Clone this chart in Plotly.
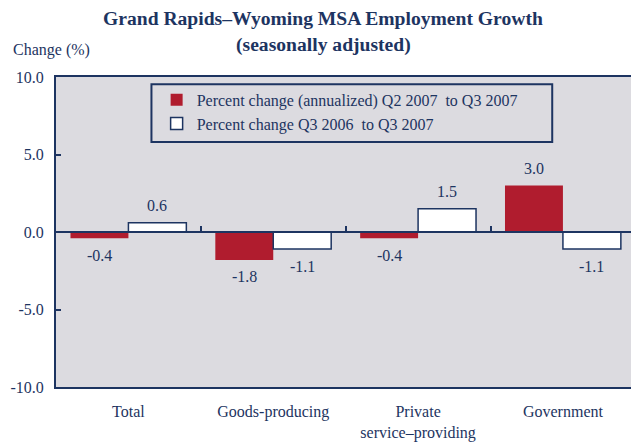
import plotly.graph_objects as go

categories = ["Total", "Goods-producing", "Private<br>service–providing", "Government"]
annualized = [-0.4, -1.8, -0.4, 3.0]
yoy = [0.6, -1.1, 1.5, -1.1]
series_names = ["Percent change (annualized) Q2 2007  to Q3 2007",
                "Percent change Q3 2006  to Q3 2007"]
y_ticks = [10, 5, 0, -5, -10]

NAVY = "#1d3461"
RED = "#b01c2e"
FONT = "Liberation Serif, Times New Roman, serif"

fig = go.Figure()
fig.add_trace(go.Bar(x=categories, y=annualized, name=series_names[0],
                     marker=dict(color=RED, line=dict(width=0))))
fig.add_trace(go.Bar(x=categories, y=yoy, name=series_names[1],
                     marker=dict(color="white", line=dict(color=NAVY, width=1.5))))
# dummy trace to activate the zero-line tick axis
fig.add_trace(go.Scatter(x=[0], y=[0], xaxis="x2", mode="markers",
                         marker=dict(opacity=0), showlegend=False, hoverinfo="skip"))

# value labels
for i, (a, b) in enumerate(zip(annualized, yoy)):
    for off, v in ((-0.2, a), (0.2, b)):
        fig.add_annotation(x=i + off, y=v, xref="x", yref="y", text=f"{v:.1f}",
                           showarrow=False, yshift=(17 if v >= 0 else -17),
                           yanchor="middle",
                           font=dict(family=FONT, size=16, color=NAVY))

fig.update_layout(
    width=631, height=442,
    margin=dict(l=55.5, r=0, t=77, b=55, autoexpand=False),
    paper_bgcolor="white", plot_bgcolor="#dcdbe0",
    barmode="group", bargap=0.2, bargroupgap=0,
    font=dict(family=FONT, size=16, color=NAVY),
    showlegend=True,
    legend=dict(x=0.175, y=0.981, xanchor="left", yanchor="top",
                bgcolor="rgba(0,0,0,0)", borderwidth=0,
                font=dict(family=FONT, size=16, color=NAVY),
                tracegroupgap=0, itemwidth=30),
    xaxis=dict(type="category", range=[-0.5, 3.47], showgrid=False,
               showline=True, linecolor=NAVY, linewidth=2, mirror=True,
               ticks="", ticklabelstandoff=9, automargin=False,
               tickfont=dict(family=FONT, size=16, color=NAVY)),
    xaxis2=dict(overlaying="x", anchor="free", position=0.5, range=[-0.5, 3.47],
                showgrid=False, showline=True, linecolor=NAVY, linewidth=2,
                tickvals=[0.5, 1.5, 2.5], ticks="inside", ticklen=5,
                tickcolor=NAVY, tickwidth=1.5, showticklabels=False,
                layer="above traces", zeroline=False, automargin=False),
    yaxis=dict(range=[-10, 10], tickvals=y_ticks,
               ticktext=[f"{v:.1f}" for v in y_ticks],
               showgrid=False, zeroline=False, automargin=False,
               showline=True, linecolor=NAVY, linewidth=2,
               ticks="inside", ticklen=5, tickcolor=NAVY, tickwidth=1.5,
               ticklabelstandoff=7,
               tickfont=dict(family=FONT, size=16, color=NAVY)),
    shapes=[dict(type="rect", xref="paper", yref="paper",
                 x0=0.166, x1=0.863, y0=0.79, y1=0.977,
                 line=dict(color=NAVY, width=2), fillcolor="rgba(0,0,0,0)")],
)

fig.add_annotation(x=0.465, y=1.19, xref="paper", yref="paper", showarrow=False,
                   xanchor="center", yanchor="middle",
                   text="<b>Grand Rapids–Wyoming MSA Employment Growth</b>",
                   font=dict(family=FONT, size=19.6, color=NAVY))
fig.add_annotation(x=0.465, y=1.103, xref="paper", yref="paper", showarrow=False,
                   xanchor="center", yanchor="middle",
                   text="<b>(seasonally adjusted)</b>",
                   font=dict(family=FONT, size=19.6, color=NAVY))
fig.add_annotation(x=-0.0775, y=1.087, xref="paper", yref="paper", showarrow=False,
                   xanchor="left", yanchor="middle", text="Change (%)",
                   font=dict(family=FONT, size=16, color=NAVY))

fig.write_html(
    "out.html",
    config={"displayModeBar": False},
    post_script="document.documentElement.style.margin='0';"
                "document.body.style.margin='0';"
                "document.body.style.overflow='hidden';",
)
